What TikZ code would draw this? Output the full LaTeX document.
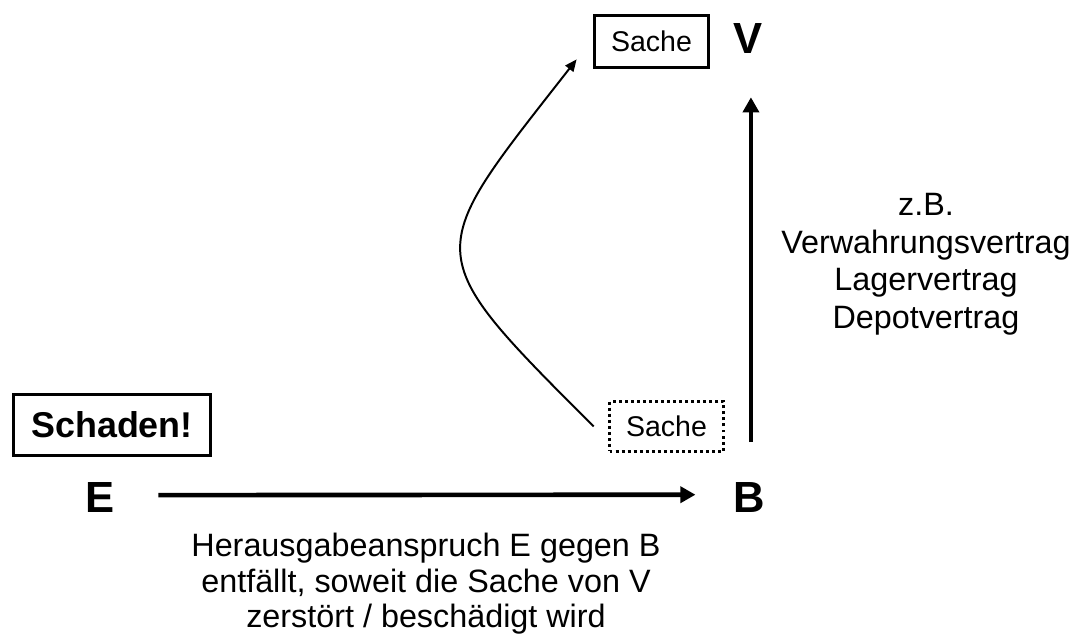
\documentclass[tikz,border=0pt]{standalone}
\usepackage{fontspec}
\setmainfont{Liberation Sans}
\usetikzlibrary{arrows.meta}
\tikzset{
  party/.style={inner sep=0pt, font=\fontsize{31}{31}\selectfont\bfseries},
  thing/.style={draw, line width=2.1pt, inner sep=0pt, minimum width=2.85cm, font=\fontsize{20.3}{22}\selectfont},
  lost/.style={thing, dash pattern=on 2.1pt off 2.2pt},
  note/.style={inner sep=0pt, align=center, font=\fontsize{23}{25.3}\selectfont},
  claim/.style={line width=3.3pt, -{Triangle[length=0.38cm, width=0.4cm]}},
  handover/.style={line width=1.4pt, -{Triangle[length=0.3cm, width=0.25cm]}},
}

\begin{document}
\begin{tikzpicture}
\useasboundingbox (0,0) rectangle (27,16.05);
\node[party] (e) at (2.513,3.600) {E};
\node[party] (b) at (18.738,3.613) {B};
\node[party] (v) at (18.690,15.075) {V};
\node[thing, minimum height=1.3cm] (sacheV) at (16.288,15.013) {Sache};
\node[lost, minimum height=1.25cm] (sacheB) at (16.663,5.388) {Sache};
\node[thing, minimum width=4.925cm, minimum height=1.525cm, font=\fontsize{25.5}{27}\selectfont\bfseries] (schaden) at (2.800,5.425) {Schaden!};
\node[note, anchor=north, font=\fontsize{23}{26.8}\selectfont] (vertrag) at (23.150,11.225) {z.B.\\Verwahrungsvertrag\\Lagervertrag\\Depotvertrag};
\node[note, anchor=north] (anspruch) at (10.650,2.725) {Herausgabeanspruch E gegen B\\entfällt, soweit die Sache von V\\zerstört / beschädigt wird};
\draw[claim, shorten <=1.075cm, shorten >=0.95cm] ([yshift=2pt]e.east) -- ([yshift=2pt]b.west);
\draw[claim, shorten <=1.0cm, shorten >=1.075cm] ([xshift=1pt]b.north) -- ([xshift=1pt]b.north |- v.south);
\draw[handover] ([xshift=-0.36cm]sacheB.west) to[out=135, in=232, looseness=1.74] ([xshift=-0.41cm, yshift=0.24cm]sacheV.south west);
\end{tikzpicture}
\end{document}
